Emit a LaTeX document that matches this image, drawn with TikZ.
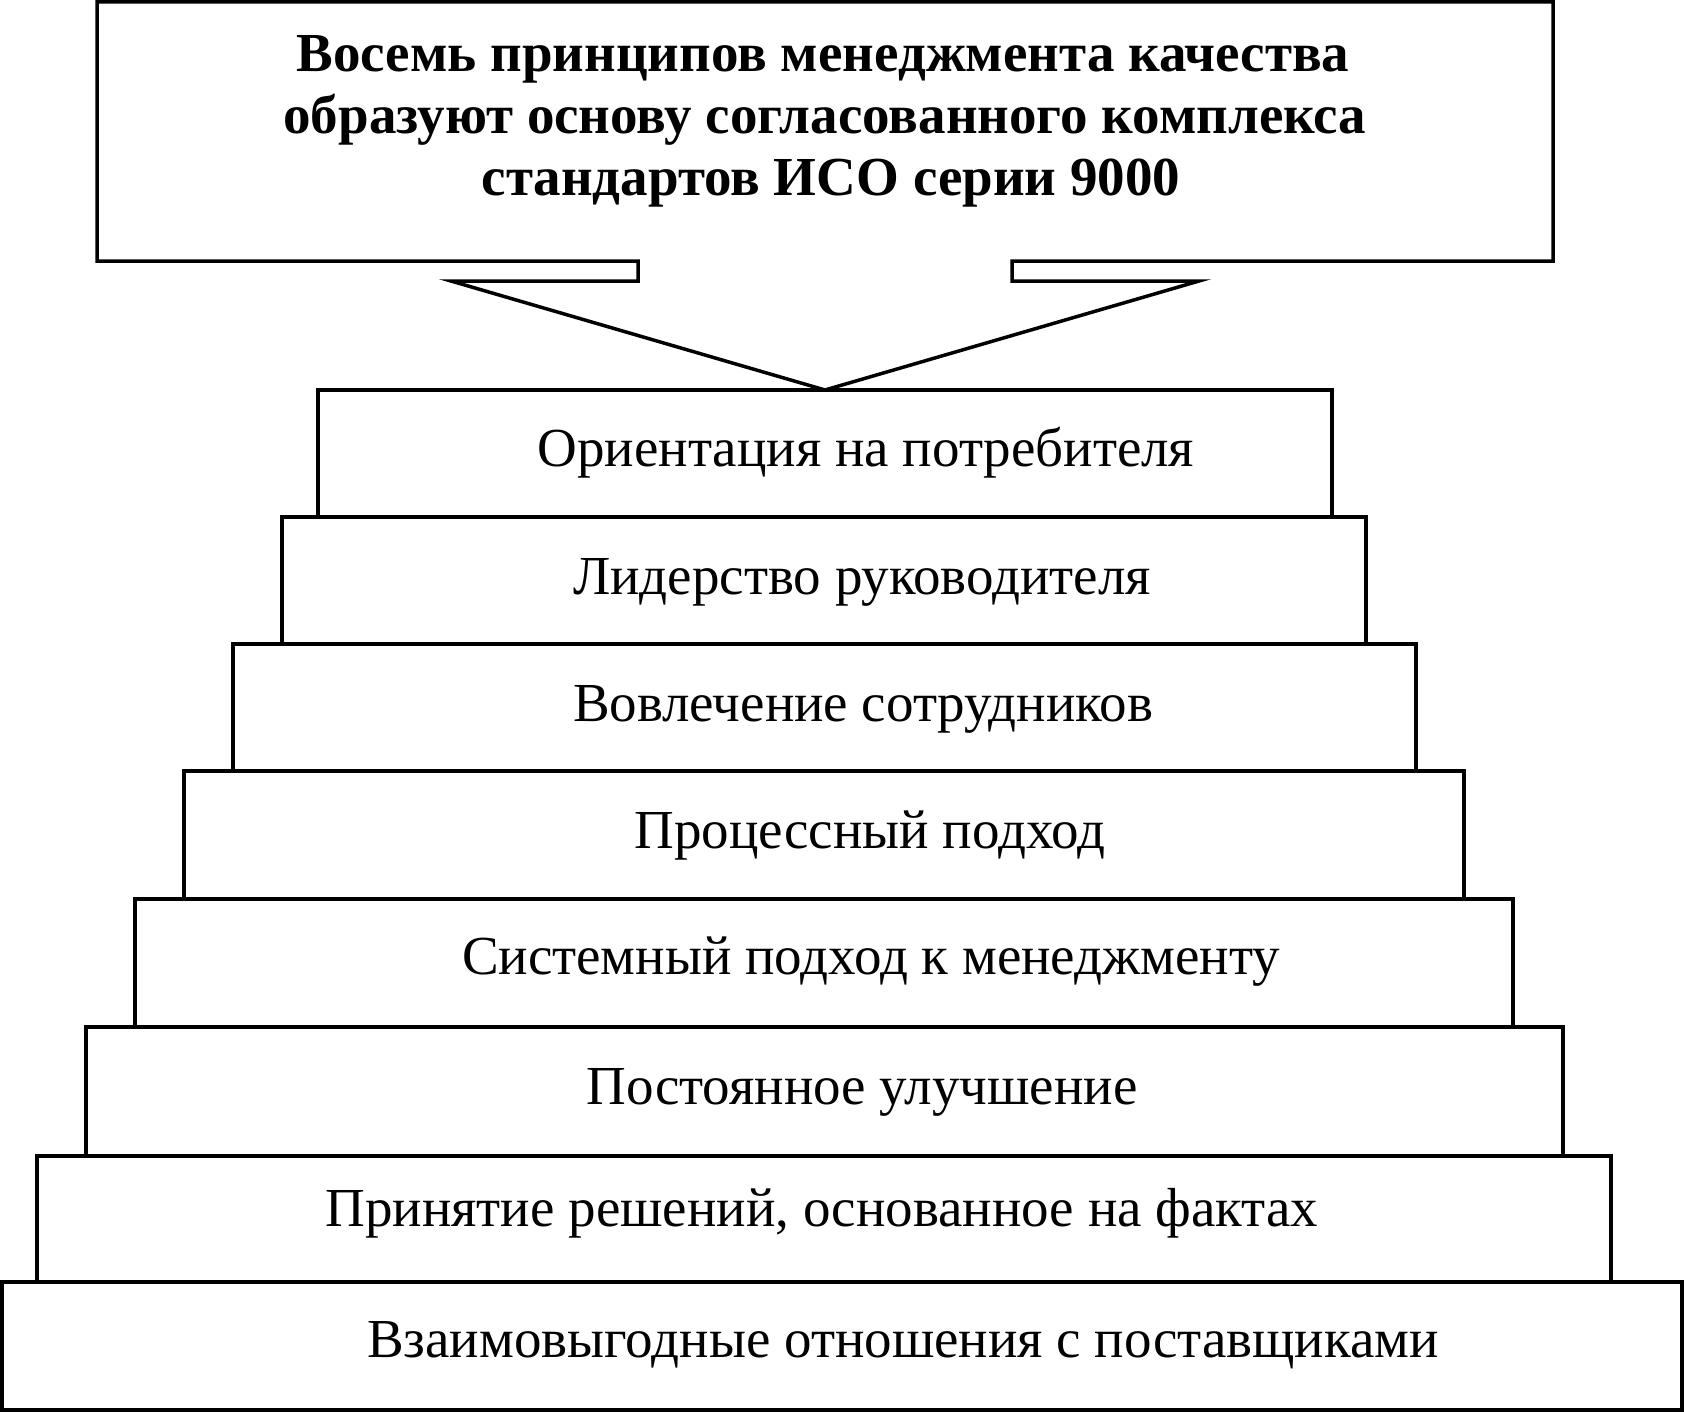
\documentclass[tikz,border=0pt]{standalone}
\usepackage{fontspec}
\setmainfont{Liberation Serif}
\begin{document}
\begin{tikzpicture}[x=1pt,y=-1pt,
  outl/.style={draw=black,line width=3.5pt,line join=miter},
  stepbox/.style={draw=black,line width=3.2pt,fill=white,inner sep=0pt},
  steptext/.style={font=\fontsize{55}{66}\selectfont,inner sep=0pt,anchor=base},
  titletext/.style={font=\fontsize{55}{62}\selectfont\bfseries,inner sep=0pt,anchor=base}]
\useasboundingbox (0,0) rectangle (1684,1413);
% top box with arrow
\path[outl] (97,2) -- (1553,2) -- (1553,261) -- (1012,261) -- (1012,281) -- (1199,281)
  -- (825,390) -- (451,281) -- (638,281) -- (638,261) -- (97,261) -- cycle;
\coordinate (tip) at (825,390);
\node[titletext] (h1) at (823,71) {Восемь принципов менеджмента качества};
\node[titletext] (h2) at (825,133) {образуют основу согласованного комплекса};
\node[titletext] (h3) at (831,195) {стандартов ИСО серии 9000};
% steps (bottom first so upper edges draw on top)
\foreach \n/\xl/\xr/\yt/\yb in {8/2/1682/1282/1410, 7/37/1611/1156/1282, 6/86/1563/1027/1156,
  5/135/1513/899/1027, 4/184/1464/771/899, 3/233/1416/644/771, 2/282/1366/517/644, 1/318/1332/390/517}
  \draw[stepbox] (\xl,\yt) rectangle (\xr,\yb);
\node[steptext] (t1) at (866,466) {Ориентация на потребителя};
\node[steptext] (t2) at (862,594) {Лидерство руководителя};
\node[steptext] (t3) at (863,721) {Вовлечение сотрудников};
\node[steptext] (t4) at (870,848) {Процессный подход};
\node[steptext] (t5) at (871,974) {Системный подход к менеджменту};
\node[steptext] (t6) at (862,1104) {Постоянное улучшение};
\node[steptext] (t7) at (822,1226) {Принятие решений, основанное на фактах};
\node[steptext] (t8) at (903,1357) {Взаимовыгодные отношения с поставщиками};
\end{tikzpicture}
\end{document}
